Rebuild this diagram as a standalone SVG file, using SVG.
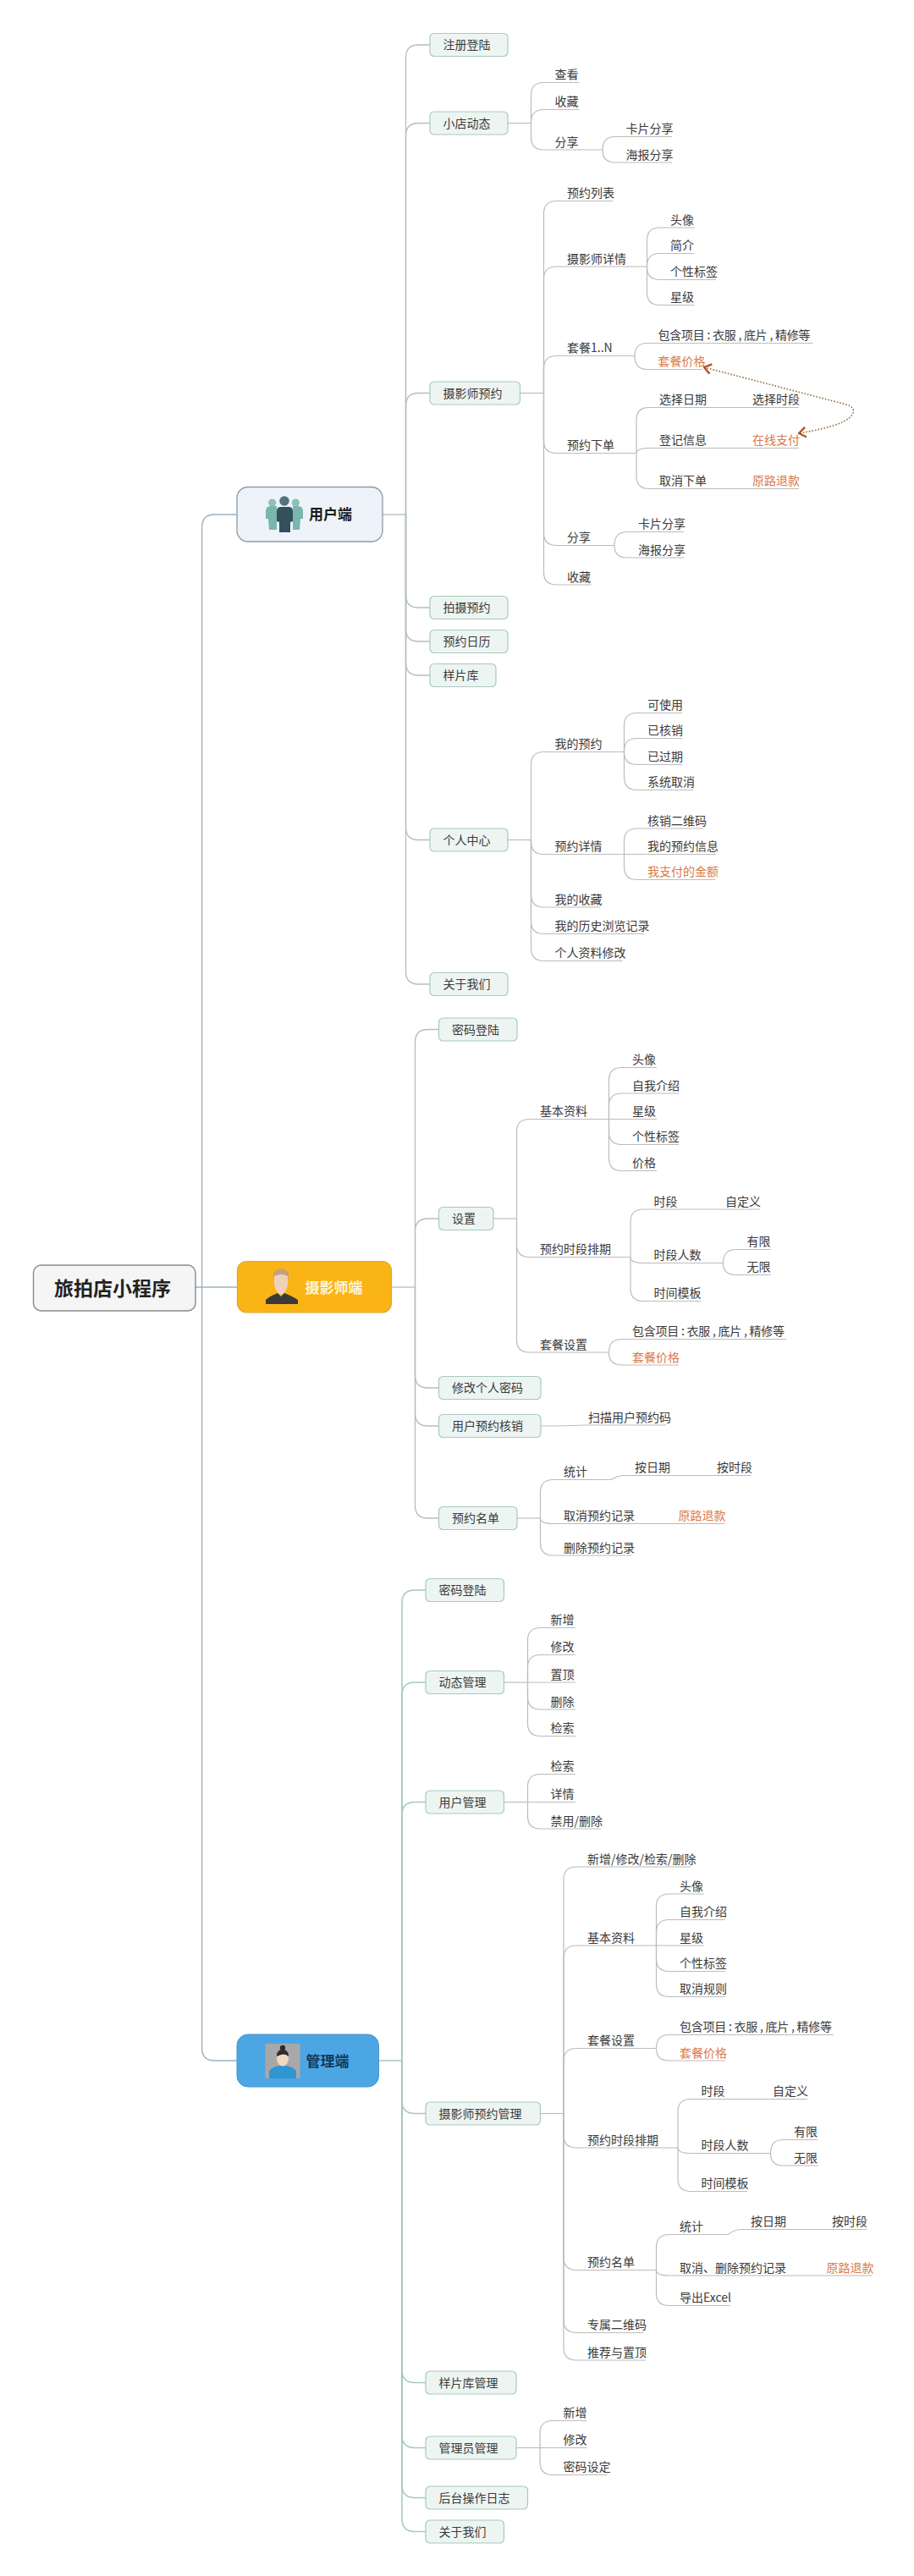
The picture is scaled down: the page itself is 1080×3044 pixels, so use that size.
<svg xmlns="http://www.w3.org/2000/svg" width="1080" height="3044" viewBox="0 0 1080 3044">
<style>
text{font-family:"Noto Sans CJK SC","Noto Sans",sans-serif;font-size:14px;fill:#3a3a3a;transform:translateX(-1px)}
.o{fill:#d9794c}
.n{fill:#edf5f2;stroke:#a9c9bf;stroke-width:1.2}
.h{font-weight:700;font-size:17px}
#connectors path{fill:none;stroke:#bcbcbc;stroke-width:1.2}
#connectors .a{stroke:#9fb0c0;stroke-width:1.4}
#connectors .u{stroke:#b3bfba;stroke-width:1.3}
#connectors .g{stroke:#a5c9bd;stroke-width:1.5}
#connectors .rel{stroke:#8f6b3d;stroke-width:1.6;stroke-dasharray:1.6 2}
</style>
<defs>
<marker id="chev" markerUnits="userSpaceOnUse" markerWidth="14" markerHeight="14" refX="11" refY="6" orient="auto-start-reverse" viewBox="0 0 12 12"><path d="M4 1L11 6L4 11" style="fill:none;stroke:#b5511f;stroke-width:2;stroke-dasharray:none"/></marker>
</defs>
<g id="connectors">
<path class="a" d="M231 1521H281"/>
<path class="a" d="M238.6 1521V623Q238.6 608 253.6 608H280"/>
<path class="a" d="M238.6 1521V2420Q238.6 2435 253.6 2435H280"/>
<path class="u" d="M452 608H479.5"/>
<path class="u" d="M479.5 608V68Q479.5 53 494.5 53H508"/>
<path class="u" d="M479.5 608V160.5Q479.5 145.5 494.5 145.5H508"/>
<path class="u" d="M479.5 608V479.5Q479.5 464.5 494.5 464.5H508"/>
<path class="u" d="M479.5 608V703Q479.5 718 494.5 718H508"/>
<path class="u" d="M479.5 608V743Q479.5 758 494.5 758H508"/>
<path class="u" d="M479.5 608V783Q479.5 798 494.5 798H508"/>
<path class="u" d="M479.5 608V977.5Q479.5 992.5 494.5 992.5H508"/>
<path class="u" d="M479.5 608V1148Q479.5 1163 494.5 1163H508"/>
<path d="M600 145.5H627.5"/>
<path d="M627.5 145.5V112.5Q627.5 97.5 642.5 97.5H684.5"/>
<path d="M627.5 145.5V144.5Q627.5 129.5 642.5 129.5H684.5"/>
<path d="M627.5 145.5V162Q627.5 177 642.5 177H712"/>
<path d="M712 177Q712 161.5 727 161.5H794"/>
<path d="M712 177Q712 192 727 192H794"/>
<path d="M614.5 464.5H642.5"/>
<path d="M642.5 464.5V252.5Q642.5 237.5 657.5 237.5H724"/>
<path d="M642.5 464.5V330Q642.5 315 657.5 315H764.5"/>
<path d="M642.5 464.5V435.5Q642.5 420.5 657.5 420.5H750"/>
<path d="M642.5 464.5V520.5Q642.5 535.5 657.5 535.5H752"/>
<path d="M642.5 464.5V629.5Q642.5 644.5 657.5 644.5H726"/>
<path d="M642.5 464.5V676Q642.5 691 657.5 691H698.5"/>
<path d="M764.5 315V284Q764.5 269 779.5 269H820.5"/>
<path d="M764.5 315V314.5Q764.5 299.5 779.5 299.5H820.5"/>
<path d="M764.5 315V315.5Q764.5 330.5 779.5 330.5H846"/>
<path d="M764.5 315V345.5Q764.5 360.5 779.5 360.5H820.5"/>
<path d="M750 420.5Q750 405.5 765 405.5H960.5"/>
<path d="M750 420.5Q750 436.5 765 436.5H830"/>
<path d="M752 535.5V496.5Q752 481.5 767 481.5H944"/>
<path d="M752 535.5Q752 529.5 767 529.5H944"/>
<path d="M752 535.5V562.5Q752 577.5 767 577.5H944"/>
<path d="M726 644.5Q726 628.5 741 628.5H808"/>
<path d="M726 644.5Q726 659 741 659H808"/>
<path class="rel" marker-start="url(#chev)" marker-end="url(#chev)" d="M832 434L1000 478Q1010 481 1008 488Q1006 494 993 500Q975 507 944 512"/>
<path d="M600 992.5H627.5"/>
<path d="M627.5 992.5V903.5Q627.5 888.5 642.5 888.5H737.5"/>
<path d="M627.5 992.5V994.5Q627.5 1009.5 642.5 1009.5H737.5"/>
<path d="M627.5 992.5V1057Q627.5 1072 642.5 1072H709.5"/>
<path d="M627.5 992.5V1088.5Q627.5 1103.5 642.5 1103.5H761"/>
<path d="M627.5 992.5V1120.5Q627.5 1135.5 642.5 1135.5H735.5"/>
<path d="M737.5 888.5V857.5Q737.5 842.5 752.5 842.5H806"/>
<path d="M737.5 888.5V887.5Q737.5 872.5 752.5 872.5H806"/>
<path d="M737.5 888.5V888.5Q737.5 903.5 752.5 903.5H806"/>
<path d="M737.5 888.5V918.5Q737.5 933.5 752.5 933.5H819.5"/>
<path d="M737.5 1009.5V994Q737.5 979 752.5 979H831.5"/>
<path d="M737.5 1009.5H845.5"/>
<path d="M737.5 1009.5V1024.5Q737.5 1039.5 752.5 1039.5H845.5"/>
<path class="u" d="M462.5 1521H490.5"/>
<path class="u" d="M490.5 1521V1231.5Q490.5 1216.5 505.5 1216.5H518.5"/>
<path class="u" d="M490.5 1521V1455Q490.5 1440 505.5 1440H518.5"/>
<path class="u" d="M490.5 1521V1625Q490.5 1640 505.5 1640H518.5"/>
<path class="u" d="M490.5 1521V1670Q490.5 1685 505.5 1685H518.5"/>
<path class="u" d="M490.5 1521V1779Q490.5 1794 505.5 1794H518.5"/>
<path d="M583 1440H610.5"/>
<path d="M610.5 1440V1337.5Q610.5 1322.5 625.5 1322.5H719.5"/>
<path d="M610.5 1440V1470.5Q610.5 1485.5 625.5 1485.5H745"/>
<path d="M610.5 1440V1583Q610.5 1598 625.5 1598H719.5"/>
<path d="M719.5 1322.5V1276.5Q719.5 1261.5 734.5 1261.5H776"/>
<path d="M719.5 1322.5V1307Q719.5 1292 734.5 1292H802"/>
<path d="M719.5 1322.5H776"/>
<path d="M719.5 1322.5V1337.5Q719.5 1352.5 734.5 1352.5H802"/>
<path d="M719.5 1322.5V1368.5Q719.5 1383.5 734.5 1383.5H776"/>
<path d="M745 1485.5V1444Q745 1429 760 1429H898"/>
<path d="M745 1485.5Q745 1492.5 760 1492.5H854.5"/>
<path d="M745 1485.5V1522.5Q745 1537.5 760 1537.5H828"/>
<path d="M854.5 1492.5Q854.5 1476.5 869.5 1476.5H911"/>
<path d="M854.5 1492.5Q854.5 1506.5 869.5 1506.5H911"/>
<path d="M719.5 1598Q719.5 1582.5 734.5 1582.5H929"/>
<path d="M719.5 1598Q719.5 1613 734.5 1613H802"/>
<path d="M639 1685Q670 1685 690 1684H787"/>
<path d="M611 1794H638.5"/>
<path d="M638.5 1794V1763.5Q638.5 1748.5 653.5 1748.5H722"/>
<path d="M638.5 1794Q638.5 1800.5 653.5 1800.5H856.5"/>
<path d="M638.5 1794V1823Q638.5 1838 653.5 1838H746.5"/>
<path d="M722 1748.5Q730 1743.5 738 1743.5H887.5"/>
<path class="g" d="M447.5 2435H475"/>
<path class="g" d="M475 2435V1894Q475 1879 490 1879H503"/>
<path class="g" d="M475 2435V2003Q475 1988 490 1988H503"/>
<path class="g" d="M475 2435V2144.5Q475 2129.5 490 2129.5H503"/>
<path class="g" d="M475 2435V2482.5Q475 2497.5 490 2497.5H503"/>
<path class="g" d="M475 2435V2800.5Q475 2815.5 490 2815.5H503"/>
<path class="g" d="M475 2435V2877.5Q475 2892.5 490 2892.5H503"/>
<path class="g" d="M475 2435V2936.5Q475 2951.5 490 2951.5H503"/>
<path class="g" d="M475 2435V2976.5Q475 2991.5 490 2991.5H503"/>
<path d="M596 1988H623.5"/>
<path d="M623.5 1988V1938.5Q623.5 1923.5 638.5 1923.5H680"/>
<path d="M623.5 1988V1970.5Q623.5 1955.5 638.5 1955.5H680"/>
<path d="M623.5 1988H680"/>
<path d="M623.5 1988V2005Q623.5 2020 638.5 2020H680"/>
<path d="M623.5 1988V2036.5Q623.5 2051.5 638.5 2051.5H680"/>
<path d="M596 2129.5H623.5"/>
<path d="M623.5 2129.5V2111.5Q623.5 2096.5 638.5 2096.5H680"/>
<path d="M623.5 2129.5H680"/>
<path d="M623.5 2129.5V2146Q623.5 2161 638.5 2161H710"/>
<path d="M638.5 2497.5H666"/>
<path d="M666 2497.5V2221Q666 2206 681 2206H816.5"/>
<path d="M666 2497.5V2314Q666 2299 681 2299H775.5"/>
<path d="M666 2497.5V2435.5Q666 2420.5 681 2420.5H775.5"/>
<path d="M666 2497.5V2523Q666 2538 681 2538H801"/>
<path d="M666 2497.5V2667.5Q666 2682.5 681 2682.5H775.5"/>
<path d="M666 2497.5V2741.5Q666 2756.5 681 2756.5H760.5"/>
<path d="M666 2497.5V2774Q666 2789 681 2789H763"/>
<path d="M775.5 2299V2253Q775.5 2238 790.5 2238H831.5"/>
<path d="M775.5 2299V2283.5Q775.5 2268.5 790.5 2268.5H857"/>
<path d="M775.5 2299H831.5"/>
<path d="M775.5 2299V2314.5Q775.5 2329.5 790.5 2329.5H857"/>
<path d="M775.5 2299V2344.5Q775.5 2359.5 790.5 2359.5H857"/>
<path d="M775.5 2420.5Q775.5 2404.5 790.5 2404.5H985"/>
<path d="M775.5 2420.5Q775.5 2435 790.5 2435H857"/>
<path d="M801 2538V2495.5Q801 2480.5 816 2480.5H954"/>
<path d="M801 2538Q801 2544.5 816 2544.5H910.5"/>
<path d="M801 2538V2574.5Q801 2589.5 816 2589.5H883"/>
<path d="M910.5 2544.5Q910.5 2528.5 925.5 2528.5H966.5"/>
<path d="M910.5 2544.5Q910.5 2559 925.5 2559H966.5"/>
<path d="M775.5 2682.5V2655.5Q775.5 2640.5 790.5 2640.5H860"/>
<path d="M775.5 2682.5Q775.5 2689 790.5 2689H1030.5"/>
<path d="M775.5 2682.5V2709.5Q775.5 2724.5 790.5 2724.5H862.5"/>
<path d="M860 2640.5Q868 2634.5 876 2634.5H1024.5"/>
<path d="M610 2892.5H638"/>
<path d="M638 2892.5V2875.5Q638 2860.5 653 2860.5H693.5"/>
<path d="M638 2892.5H693.5"/>
<path d="M638 2892.5V2909.5Q638 2924.5 653 2924.5H717.5"/>
</g>
<g id="root"><rect x="39.5" y="1495" width="191.5" height="54" rx="9" fill="#f5f5f5" stroke="#8a8a8a" stroke-width="1.4"/><text x="65" y="1531" style="font-size:23px;font-weight:700;fill:#222">旅拍店小程序</text></g>
<g id="user"><rect x="280" y="575.5" width="172" height="64.5" rx="13" fill="#edf3f9" stroke="#8a9aa8" stroke-width="1.3"/>
<g fill="#7ab5ae"><circle cx="321.7" cy="594" r="4.6" fill="#8cc0ba"/><circle cx="349.3" cy="594" r="4.6" fill="#8cc0ba"/><path d="M314 604Q314 598 320 598H327V626H318L317 613H314Z"/><path d="M358 604Q358 598 352 598H346V626H354L355 613H358Z"/></g>
<circle cx="336" cy="592" r="5.8" fill="#55717e"/><path d="M327 604Q327 599 332 599H341Q346 599 346 604V616L343 617V629H330V617L327 616Z" fill="#33505f"/>
<text class="h" x="366" y="614" style="fill:#1a1a1a">用户端</text></g>
<g id="photographer"><rect x="280.5" y="1490.5" width="182" height="60.5" rx="11" fill="#fbb415" stroke="#d8a93a" stroke-width="1.2"/>
<path d="M323 1504Q332 1494 341 1504V1512H323Z" fill="#c9a077"/><path d="M324 1508Q332 1504 340 1508V1518Q338 1528 332 1530Q326 1528 324 1518Z" fill="#f0d2bc"/><path d="M314 1541V1536Q318 1532 328 1528L332 1532L336 1528Q346 1532 352 1536V1541Z" fill="#3b3a3a"/>
<text class="h" x="361.5" y="1528" style="fill:#fff6dc">摄影师端</text></g>
<g id="admin"><rect x="280" y="2404" width="167.5" height="62" rx="13" fill="#4da6e4" stroke="#4a94c8" stroke-width="1"/>
<rect x="313.5" y="2415" width="41" height="41" rx="2" fill="#a9a8a8"/><path d="M318 2456V2447Q322 2442 330 2441H338Q346 2442 350 2447V2456Z" fill="#2e96d1"/><ellipse cx="334" cy="2432" rx="7" ry="9.5" fill="#f2d7bf"/><path d="M327 2430Q327 2422 334 2422Q341 2422 341 2430Q336 2425 327 2430Z" fill="#2c2c2c"/><circle cx="334" cy="2420" r="3.2" fill="#2c2c2c"/>
<text class="h" x="362.5" y="2442" style="fill:#0d3a5c">管理端</text></g>
<g id="u1"><rect class="n" x="508" y="39.5" width="92" height="27" rx="5"/><text x="524.5" y="58">注册登陆</text></g>
<g id="u2"><rect class="n" x="508" y="132" width="92" height="27" rx="5"/><text x="524.5" y="150.5">小店动态</text></g>
<g id="u3"><rect class="n" x="508" y="451" width="106.5" height="27" rx="5"/><text x="524.5" y="469.5">摄影师预约</text></g>
<g id="u4"><rect class="n" x="508" y="704.5" width="92" height="27" rx="5"/><text x="524.5" y="723">拍摄预约</text></g>
<g id="u5"><rect class="n" x="508" y="744.5" width="92" height="27" rx="5"/><text x="524.5" y="763">预约日历</text></g>
<g id="u6"><rect class="n" x="508" y="784.5" width="78" height="27" rx="5"/><text x="524.5" y="803">样片库</text></g>
<g id="u7"><rect class="n" x="508" y="979" width="92" height="27" rx="5"/><text x="524.5" y="997.5">个人中心</text></g>
<g id="u8"><rect class="n" x="508" y="1149.5" width="92" height="27" rx="5"/><text x="524.5" y="1168">关于我们</text></g>
<g id="l1"><text x="656.5" y="93">查看</text></g>
<g id="l2"><text x="656.5" y="125">收藏</text></g>
<g id="l3"><text x="656.5" y="172.5">分享</text></g>
<g id="l4"><text x="740.5" y="157">卡片分享</text></g>
<g id="l5"><text x="740.5" y="187.5">海报分享</text></g>
<g id="l6"><text x="671" y="233">预约列表</text></g>
<g id="l7"><text x="671" y="310.5">摄影师详情</text></g>
<g id="l8"><text x="793" y="264.5">头像</text></g>
<g id="l9"><text x="793" y="295">简介</text></g>
<g id="l10"><text x="793" y="326">个性标签</text></g>
<g id="l11"><text x="793" y="356">星级</text></g>
<g id="l12"><text x="671" y="416">套餐1..N</text></g>
<g id="l13"><text x="778.5" y="401" textLength="180">包含项目 : 衣服 , 底片 , 精修等</text></g>
<g id="l14"><text class="o" x="778.5" y="432">套餐价格</text></g>
<g id="l15"><text x="671" y="531">预约下单</text></g>
<g id="l16"><text x="780" y="477">选择日期</text></g>
<g id="l17"><text x="890" y="477">选择时段</text></g>
<g id="l18"><text x="780" y="525">登记信息</text></g>
<g id="l19"><text class="o" x="890" y="525">在线支付</text></g>
<g id="l20"><text x="780" y="573">取消下单</text></g>
<g id="l21"><text class="o" x="890" y="573">原路退款</text></g>
<g id="l22"><text x="671" y="640">分享</text></g>
<g id="l23"><text x="755" y="624">卡片分享</text></g>
<g id="l24"><text x="755" y="654.5">海报分享</text></g>
<g id="l25"><text x="671" y="686.5">收藏</text></g>
<g id="l26"><text x="656.5" y="884">我的预约</text></g>
<g id="l27"><text x="766" y="838">可使用</text></g>
<g id="l28"><text x="766" y="868">已核销</text></g>
<g id="l29"><text x="766" y="899">已过期</text></g>
<g id="l30"><text x="766" y="929">系统取消</text></g>
<g id="l31"><text x="656.5" y="1005">预约详情</text></g>
<g id="l32"><text x="766" y="974.5">核销二维码</text></g>
<g id="l33"><text x="766" y="1005">我的预约信息</text></g>
<g id="l34"><text class="o" x="766" y="1035">我支付的金额</text></g>
<g id="l35"><text x="656.5" y="1067.5">我的收藏</text></g>
<g id="l36"><text x="656.5" y="1099">我的历史浏览记录</text></g>
<g id="l37"><text x="656.5" y="1131">个人资料修改</text></g>
<g id="p1"><rect class="n" x="518.5" y="1203" width="92.5" height="27" rx="5"/><text x="535" y="1221.5">密码登陆</text></g>
<g id="p2"><rect class="n" x="518.5" y="1426.5" width="64.5" height="27" rx="5"/><text x="535" y="1445">设置</text></g>
<g id="p3"><rect class="n" x="518.5" y="1626.5" width="120.5" height="27" rx="5"/><text x="535" y="1645">修改个人密码</text></g>
<g id="p4"><rect class="n" x="518.5" y="1671.5" width="120.5" height="27" rx="5"/><text x="535" y="1690">用户预约核销</text></g>
<g id="p5"><rect class="n" x="518.5" y="1780.5" width="92.5" height="27" rx="5"/><text x="535" y="1799">预约名单</text></g>
<g id="m1"><text x="639" y="1318">基本资料</text></g>
<g id="m2"><text x="748" y="1257">头像</text></g>
<g id="m3"><text x="748" y="1287.5">自我介绍</text></g>
<g id="m4"><text x="748" y="1318">星级</text></g>
<g id="m5"><text x="748" y="1348">个性标签</text></g>
<g id="m6"><text x="748" y="1379">价格</text></g>
<g id="m7"><text x="639" y="1481">预约时段排期</text></g>
<g id="m8"><text x="773.5" y="1424.5">时段</text></g>
<g id="m9"><text x="858" y="1424.5">自定义</text></g>
<g id="m10"><text x="773.5" y="1488">时段人数</text></g>
<g id="m11"><text x="883.5" y="1472">有限</text></g>
<g id="m12"><text x="883.5" y="1502">无限</text></g>
<g id="m13"><text x="773.5" y="1533">时间模板</text></g>
<g id="m14"><text x="639" y="1593.5">套餐设置</text></g>
<g id="m15"><text x="748" y="1578" textLength="180">包含项目 : 衣服 , 底片 , 精修等</text></g>
<g id="m16"><text class="o" x="748" y="1608.5">套餐价格</text></g>
<g id="m17"><text x="696" y="1679.5">扫描用户预约码</text></g>
<g id="m18"><text x="667" y="1744">统计</text></g>
<g id="m19"><text x="751" y="1739">按日期</text></g>
<g id="m20"><text x="848" y="1739">按时段</text></g>
<g id="m21"><text x="667" y="1796">取消预约记录</text></g>
<g id="m22"><text class="o" x="802.5" y="1796">原路退款</text></g>
<g id="m23"><text x="667" y="1833.5">删除预约记录</text></g>
<g id="a1"><rect class="n" x="503" y="1865.5" width="92.5" height="27" rx="5"/><text x="519.5" y="1884">密码登陆</text></g>
<g id="a2"><rect class="n" x="503" y="1974.5" width="92.5" height="27" rx="5"/><text x="519.5" y="1993">动态管理</text></g>
<g id="a3"><rect class="n" x="503" y="2116" width="92.5" height="27" rx="5"/><text x="519.5" y="2134.5">用户管理</text></g>
<g id="a4"><rect class="n" x="503" y="2484" width="135.5" height="27" rx="5"/><text x="519.5" y="2502.5">摄影师预约管理</text></g>
<g id="a5"><rect class="n" x="503" y="2802" width="107" height="27" rx="5"/><text x="519.5" y="2820.5">样片库管理</text></g>
<g id="a6"><rect class="n" x="503" y="2879" width="107" height="27" rx="5"/><text x="519.5" y="2897.5">管理员管理</text></g>
<g id="a7"><rect class="n" x="503" y="2938" width="120.5" height="27" rx="5"/><text x="519.5" y="2956.5">后台操作日志</text></g>
<g id="a8"><rect class="n" x="503" y="2978" width="92.5" height="27" rx="5"/><text x="519.5" y="2996.5">关于我们</text></g>
<g id="b1"><text x="651.5" y="1919">新增</text></g>
<g id="b2"><text x="651.5" y="1951">修改</text></g>
<g id="b3"><text x="651.5" y="1983.5">置顶</text></g>
<g id="b4"><text x="651.5" y="2015.5">删除</text></g>
<g id="b5"><text x="651.5" y="2047">检索</text></g>
<g id="b6"><text x="651.5" y="2092">检索</text></g>
<g id="b7"><text x="651.5" y="2125">详情</text></g>
<g id="b8"><text x="651.5" y="2156.5">禁用/删除</text></g>
<g id="c1"><text x="695" y="2201.5">新增/修改/检索/删除</text></g>
<g id="c2"><text x="695" y="2294.5">基本资料</text></g>
<g id="c3"><text x="804" y="2233.5">头像</text></g>
<g id="c4"><text x="804" y="2264">自我介绍</text></g>
<g id="c5"><text x="804" y="2294.5">星级</text></g>
<g id="c6"><text x="804" y="2325">个性标签</text></g>
<g id="c7"><text x="804" y="2355">取消规则</text></g>
<g id="c8"><text x="695" y="2416">套餐设置</text></g>
<g id="c9"><text x="804" y="2400" textLength="180">包含项目 : 衣服 , 底片 , 精修等</text></g>
<g id="c10"><text class="o" x="804" y="2430.5">套餐价格</text></g>
<g id="c11"><text x="695" y="2533.5">预约时段排期</text></g>
<g id="c12"><text x="829.5" y="2476">时段</text></g>
<g id="c13"><text x="914" y="2476">自定义</text></g>
<g id="c14"><text x="829.5" y="2540">时段人数</text></g>
<g id="c15"><text x="939" y="2524">有限</text></g>
<g id="c16"><text x="939" y="2554.5">无限</text></g>
<g id="c17"><text x="829.5" y="2585">时间模板</text></g>
<g id="c18"><text x="695" y="2678">预约名单</text></g>
<g id="c19"><text x="804" y="2636">统计</text></g>
<g id="c20"><text x="888" y="2630">按日期</text></g>
<g id="c21"><text x="984" y="2630">按时段</text></g>
<g id="c22"><text x="804" y="2684.5">取消、删除预约记录</text></g>
<g id="c23"><text class="o" x="977.5" y="2684.5">原路退款</text></g>
<g id="c24"><text x="804" y="2720">导出Excel</text></g>
<g id="c25"><text x="695" y="2752">专属二维码</text></g>
<g id="c26"><text x="695" y="2784.5">推荐与置顶</text></g>
<g id="d1"><text x="666.5" y="2856">新增</text></g>
<g id="d2"><text x="666.5" y="2888">修改</text></g>
<g id="d3"><text x="666.5" y="2920">密码设定</text></g>
</svg>
